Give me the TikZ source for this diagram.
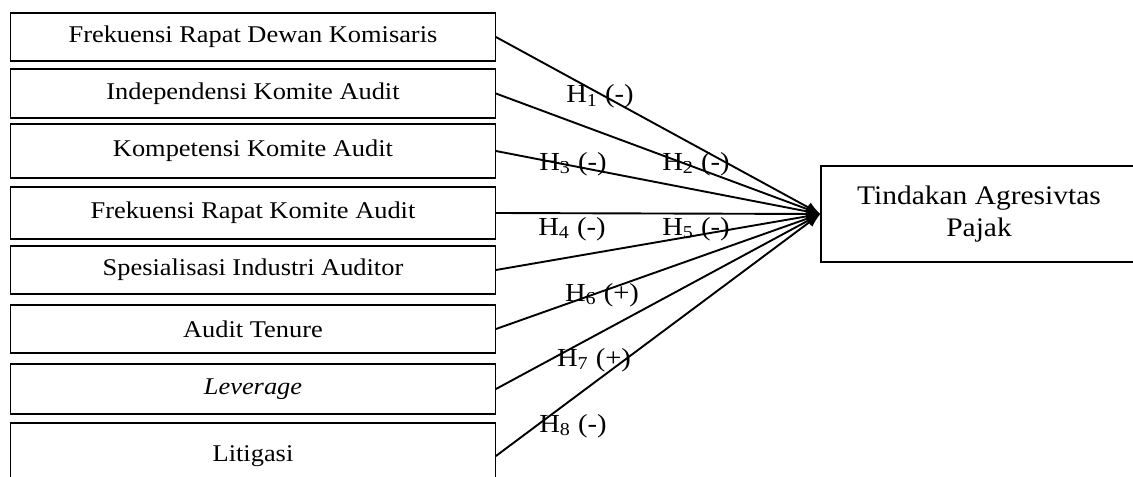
\documentclass[tikz,border=0pt]{standalone}
\usepackage{fontspec}
\setmainfont{Liberation Serif}[FakeStretch=1.1]
\usetikzlibrary{arrows.meta}

\begin{document}
\begin{tikzpicture}[x=0.5pt,y=-0.5pt]
\tikzset{ >={Latex[length=7pt,width=5.5pt]},
  var/.style={draw, line width=0.65pt, inner sep=0pt, minimum width=242.25pt, font=\fontsize{12}{14}\selectfont},
  dep/.style={draw, line width=0.65pt, inner sep=0pt, minimum width=158pt, minimum height=48pt, align=center, font=\fontsize{13.4}{16}\selectfont},
  hyp/.style={inner sep=0pt, anchor=base, font=\fontsize{13}{15}\selectfont},
  link/.style={->, line width=0.95pt},
}

\useasboundingbox (0,0) rectangle (1133,476);
\clip (0,0) rectangle (1133,476);

% independent variables
\node [var, minimum height=24pt]   (FRDK) at (253,37)    {Frekuensi Rapat Dewan Komisaris};
\node [var, minimum height=24.5pt] (IKA)  at (253,93.5)  {Independensi Komite Audit};
\node [var, minimum height=27pt]   (KKA)  at (253,151)   {Kompetensi Komite Audit};
\node [var, minimum height=26pt]   (FRKA) at (253,213)   {Frekuensi Rapat Komite Audit};
\node [var, minimum height=24pt]   (SIA)  at (253,270)   {Spesialisasi Industri Auditor};
\node [var, minimum height=24pt]   (AT)   at (253,329)   {Audit Tenure};
\node [var, minimum height=25pt]   (LEV)  at (253,389)   {\textit{Leverage}};
\node [var, minimum height=33pt]   (LIT)  at (253,456)   {Litigasi};

% dependent variable
\node [dep] (TAP) at (979,214) {Tindakan Agresivtas\\Pajak};

\draw [link] (FRDK.east) -- (TAP.west);
\draw [link] (IKA.east)  -- (TAP.west);
\draw [link] (KKA.east)  -- (TAP.west);
\draw [link] (FRKA.east) -- (TAP.west);
\draw [link] (SIA.east)  -- (TAP.west);
\draw [link] (AT.east)   -- (TAP.west);
\draw [link] (LEV.east)  -- (TAP.west);
\draw [link] (LIT.east)  -- (TAP.west);

% hypotheses
\node [hyp] (H1) at (600,103) {H\textsubscript{1} (-)};
\node [hyp] (H3) at (573,170) {H\textsubscript{3} (-)};
\node [hyp] (H2) at (696,170) {H\textsubscript{2} (-)};
\node [hyp] (H4) at (572,235) {H\textsubscript{4} (-)};
\node [hyp] (H5) at (696,235) {H\textsubscript{5} (-)};
\node [hyp] (H6) at (602,301) {H\textsubscript{6} (+)};
\node [hyp] (H7) at (594,366) {H\textsubscript{7} (+)};
\node [hyp] (H8) at (573,432) {H\textsubscript{8} (-)};

\end{tikzpicture}
\end{document}
